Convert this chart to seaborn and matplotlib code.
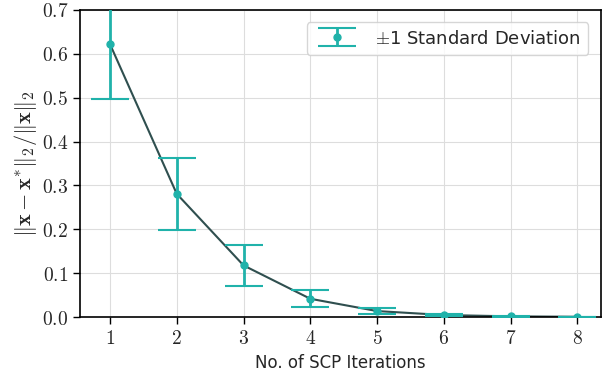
import numpy as np
import seaborn as sns
import matplotlib.pyplot as plt

iterations = [1, 2, 3, 4, 5, 6, 7, 8]
mean_err = [0.622, 0.281, 0.118, 0.042, 0.014, 0.005, 0.002, 0.001]
std_err = [0.125, 0.082, 0.047, 0.019, 0.006, 0.003, 0.001, 0.0005]

sns.set_style("whitegrid")
plt.rcParams['font.family'] = ['DejaVu Sans']
plt.rcParams['mathtext.fontset'] = 'cm'

fig, ax = plt.subplots(figsize=(6.1, 3.79), dpi=100)

sns.lineplot(x=iterations, y=mean_err, color='#2f4f4f', linewidth=1.5, ax=ax)
ax.errorbar(iterations, mean_err, yerr=std_err, fmt='o', color='#20b2aa',
            ecolor='#20b2aa', elinewidth=2, capsize=14, capthick=1.5,
            markersize=5, label=r'$\pm$1 Standard Deviation', zorder=3)

ax.set_xlim(0.55, 8.35)
ax.set_ylim(0, 0.7)
ax.set_xticks(iterations)
ax.set_xticklabels([f'${i}$' for i in iterations])
yt = np.arange(0, 0.71, 0.1)
ax.set_yticks(yt)
ax.set_yticklabels([f'${v:.1f}$' for v in yt])
ax.tick_params(axis='both', which='both', direction='out', length=5, width=1,
               color='black', labelsize=14, left=True, bottom=True)
ax.grid(True, color='#dddddd', linewidth=0.8)
for s in ax.spines.values():
    s.set_color('black')
    s.set_linewidth(1.2)

ax.set_xlabel('No. of SCP Iterations', fontsize=12)
ax.set_ylabel(r'$\|\mathbf{x}-\mathbf{x}^{*}\|_2/\|\mathbf{x}\|_2$', fontsize=16, labelpad=2)
ax.legend(loc='upper right', fontsize=13, frameon=True, fancybox=True,
          handlelength=2.6, borderaxespad=0.7)

fig.subplots_adjust(left=0.131, right=0.985, top=0.974, bottom=0.163)
fig.savefig('out.png', dpi=100)
